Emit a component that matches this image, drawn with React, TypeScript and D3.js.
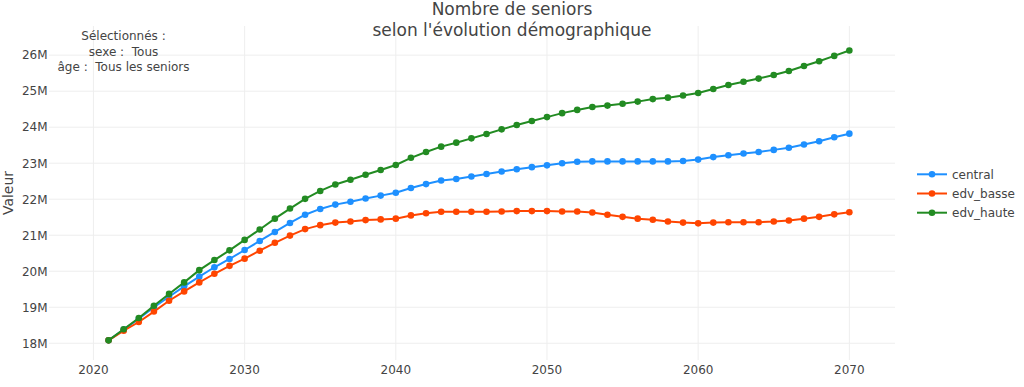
import React from "react";
import * as d3 from "d3";

const years: number[] = d3.range(2021, 2071);

const central: number[] = [
  18.08, 18.38, 18.68, 19.0, 19.29, 19.58, 19.85, 20.11, 20.34, 20.59,
  20.84, 21.09, 21.34, 21.57, 21.73, 21.85, 21.93, 22.02, 22.1, 22.18,
  22.31, 22.42, 22.52, 22.56, 22.63, 22.7, 22.77, 22.83, 22.89, 22.94,
  23.0, 23.04, 23.05, 23.05, 23.05, 23.05, 23.05, 23.05, 23.06, 23.1,
  23.17, 23.22, 23.27, 23.31, 23.37, 23.43, 23.52, 23.61, 23.72, 23.82,
];

const edv_basse: number[] = [
  18.08, 18.35, 18.59, 18.88, 19.18, 19.44, 19.69, 19.93, 20.15, 20.35,
  20.57, 20.79, 20.99, 21.17, 21.28, 21.35, 21.38, 21.42, 21.44, 21.46,
  21.55, 21.61, 21.65, 21.65, 21.65, 21.65, 21.66, 21.67, 21.67, 21.67,
  21.66, 21.66, 21.63, 21.57, 21.51, 21.46, 21.43, 21.38, 21.35, 21.33,
  21.35, 21.36, 21.36, 21.36, 21.38, 21.41, 21.46, 21.51, 21.58, 21.64,
];

const edv_haute: number[] = [
  18.08, 18.39, 18.7, 19.04, 19.37, 19.69, 20.03, 20.31, 20.58, 20.87,
  21.16, 21.46, 21.74, 22.01, 22.23, 22.41, 22.54, 22.68, 22.81, 22.95,
  23.15, 23.31, 23.46, 23.57, 23.69, 23.81, 23.94, 24.06, 24.17, 24.28,
  24.39, 24.48, 24.56, 24.6, 24.65, 24.71, 24.78, 24.82, 24.88, 24.95,
  25.06, 25.17, 25.26, 25.35, 25.45, 25.56, 25.7, 25.83, 25.98, 26.13,
];

const seriesNames: string[] = ["central", "edv_basse", "edv_haute"];
const seriesColors: string[] = ["#1e90ff", "#ff4500", "#228b22"];
const xTicks: number[] = [2020, 2030, 2040, 2050, 2060, 2070];
const yTicks: number[] = [18, 19, 20, 21, 22, 23, 24, 25, 26];
const titleLines: string[] = ["Nombre de seniors", "selon l'évolution démographique"];
const annotationLines: string[] = ["Sélectionnés :", "sexe :  Tous", "âge :  Tous les seniors"];
const yAxisTitle = "Valeur";

const W = 1024;
const H = 387;
const plot = { left: 49, right: 895, top: 26, bottom: 360 };
const FONT = "'DejaVu Sans', Verdana, sans-serif";
const TXT = "#444";

export default function App() {
  const x = d3.scaleLinear().domain([2017.06, 2073.02]).range([plot.left, plot.right]);
  const y = d3.scaleLinear().domain([17.535, 26.81]).range([plot.bottom, plot.top]);
  const all = [central, edv_basse, edv_haute];
  const line = d3
    .line<number>()
    .x((_, i) => x(years[i]))
    .y((v) => y(v));

  return (
    <svg
      width={W}
      height={H}
      style={{ position: "absolute", left: 0, top: 0, background: "#fff" }}
      fontFamily={FONT}
    >
      <rect x={0} y={0} width={W} height={H} fill="#fff" />
      {/* grid */}
      {xTicks.map((t) => (
        <line key={"gx" + t} x1={x(t)} x2={x(t)} y1={plot.top} y2={plot.bottom} stroke="#eee" strokeWidth={1} />
      ))}
      {yTicks.map((t) => (
        <line key={"gy" + t} x1={plot.left} x2={plot.right} y1={y(t)} y2={y(t)} stroke="#eee" strokeWidth={1} />
      ))}
      {/* tick labels */}
      {xTicks.map((t) => (
        <text key={"tx" + t} x={x(t)} y={374} textAnchor="middle" fontSize={12} fill={TXT}>
          {t}
        </text>
      ))}
      {yTicks.map((t) => (
        <text key={"ty" + t} x={47.5} y={y(t) + 4.3} textAnchor="end" fontSize={12} fill={TXT}>
          {t + "M"}
        </text>
      ))}
      {/* y axis title */}
      <text
        transform={`translate(13,${(plot.top + plot.bottom) / 2}) rotate(-90)`}
        textAnchor="middle"
        fontSize={14}
        fill={TXT}
      >
        {yAxisTitle}
      </text>
      {/* series */}
      {all.map((vals, si) => (
        <g key={seriesNames[si]}>
          <path d={line(vals) || ""} fill="none" stroke={seriesColors[si]} strokeWidth={2} />
          {vals.map((v, i) => (
            <circle key={i} cx={x(years[i])} cy={y(v)} r={3.3} fill={seriesColors[si]} />
          ))}
        </g>
      ))}
      {/* title */}
      {titleLines.map((t, i) => (
        <text key={"tt" + i} x={512} y={15 + i * 20.8} textAnchor="middle" fontSize={17} fill={TXT}>
          {t}
        </text>
      ))}
      {/* annotation */}
      {annotationLines.map((t, i) => (
        <text
          key={"an" + i}
          x={123.5}
          y={40 + i * 15.6}
          textAnchor="middle"
          fontSize={12}
          fill={TXT}
          style={{ whiteSpace: "pre" }}
          xmlSpace="preserve"
        >
          {t}
        </text>
      ))}
      {/* legend */}
      {seriesNames.map((n, i) => {
        const cy = 174.3 + i * 19.2;
        return (
          <g key={"lg" + n}>
            <line x1={917} x2={947} y1={cy} y2={cy} stroke={seriesColors[i]} strokeWidth={2} />
            <circle cx={932} cy={cy} r={3.3} fill={seriesColors[i]} />
            <text x={952} y={cy + 4.3} fontSize={12} fill={TXT}>
              {n}
            </text>
          </g>
        );
      })}
    </svg>
  );
}
